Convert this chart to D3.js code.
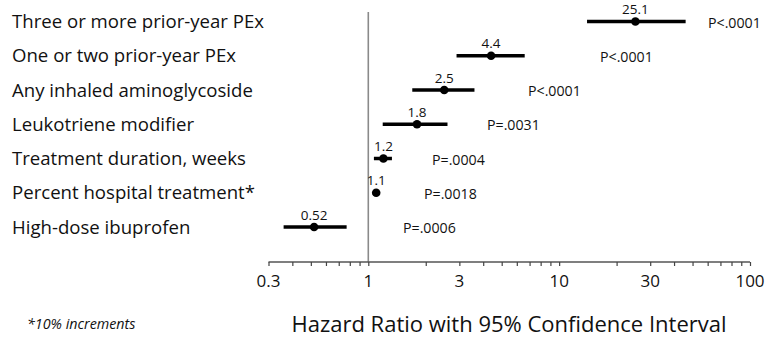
<!DOCTYPE html>
<html><head><meta charset="utf-8">
<script src="https://cdn.jsdelivr.net/npm/d3@7"></script>
<style>
html,body{margin:0;padding:0;background:#fff;}
svg{display:block;}
text{font-family:"Open Sans","Noto Sans",sans-serif;fill:#111;}
</style></head>
<body>
<script>
const categories = ["Three or more prior-year PEx","One or two prior-year PEx","Any inhaled aminoglycoside","Leukotriene modifier","Treatment duration, weeks","Percent hospital treatment*","High-dose ibuprofen"];
const hazardRatio = [25.1, 4.4, 2.5, 1.8, 1.2, 1.1, 0.52];
const ciLower = [14.0, 2.9, 1.7, 1.19, 1.07, 1.07, 0.36];
const ciUpper = [46.0, 6.6, 3.6, 2.6, 1.33, 1.12, 0.77];
const hrLabels = ["25.1","4.4","2.5","1.8","1.2","1.1","0.52"];
const pValues = ["P<.0001","P<.0001","P<.0001","P=.0031","P=.0004","P=.0018","P=.0006"];
const tickValues = [0.3, 1, 3, 10, 30, 100];
const tickLabels = ["0.3","1","3","10","30","100"];
const minorTicks = [0.3,0.4,0.5,0.6,0.7,0.8,0.9,1,2,3,4,5,6,7,8,9,10,20,30,40,50,60,70,80,90,100];
const xTitle = "Hazard Ratio with 95% Confidence Interval";
const footnote = "*10% increments";

// layout: horizontal anchor (px) of each p-value label
const pLabelX = [708, 600, 528, 487, 432, 424, 403];

const W = 775, H = 341;
const svg = d3.select("body").append("svg").attr("width", W).attr("height", H);

const x = d3.scaleLog().domain([0.3, 100]).range([268.5, 750]);
const y = d3.scalePoint().domain(categories).range([21.5, 227]);
const axisY = 262;

// reference line at HR = 1
svg.append("line")
  .attr("x1", x(1)).attr("x2", x(1)).attr("y1", 12).attr("y2", axisY)
  .attr("stroke", "#8a8a8a").attr("stroke-width", 1.6);

// axis
const axis = d3.axisBottom(x).tickValues(minorTicks).tickSize(4).tickFormat("");
const ag = svg.append("g").attr("transform", `translate(0,${axisY})`).call(axis);
ag.select(".domain").attr("stroke", "#555").attr("stroke-width", 1.5).attr("d", `M${x(0.3)},0H${x(100)}`);
ag.selectAll(".tick line").attr("stroke", "#444").attr("stroke-width", 1.2);

svg.append("g").selectAll("text").data(tickValues).join("text")
  .attr("x", d => x(d)).attr("y", 287)
  .attr("text-anchor", "middle").attr("font-size", 17)
  .text((d, i) => tickLabels[i]);

svg.append("text").attr("x", 509).attr("y", 332).attr("text-anchor", "middle")
  .attr("font-size", 22).text(xTitle);

svg.append("text").attr("x", 27).attr("y", 329).attr("font-size", 14.3)
  .attr("font-style", "italic").text(footnote);

// category labels
svg.append("g").selectAll("text").data(categories).join("text")
  .attr("x", 12).attr("y", d => y(d) + 6.5)
  .attr("font-size", 18.6).text(d => d);

const rows = svg.append("g").selectAll("g").data(categories).join("g");
rows.append("line")
  .attr("x1", (d, i) => x(ciLower[i])).attr("x2", (d, i) => x(ciUpper[i]))
  .attr("y1", d => y(d)).attr("y2", d => y(d))
  .attr("stroke", "#000").attr("stroke-width", 3.5);
rows.append("circle")
  .attr("cx", (d, i) => x(hazardRatio[i])).attr("cy", d => y(d)).attr("r", 4.3)
  .attr("fill", "#000");
rows.append("text")
  .attr("x", (d, i) => x(hazardRatio[i])).attr("y", d => y(d) - 7.5)
  .attr("text-anchor", "middle").attr("font-size", 13.5)
  .text((d, i) => hrLabels[i]);
rows.append("text")
  .attr("x", (d, i) => pLabelX[i]).attr("y", d => y(d) + 6)
  .attr("font-size", 14.2).text((d, i) => pValues[i]);
</script>
</body></html>
